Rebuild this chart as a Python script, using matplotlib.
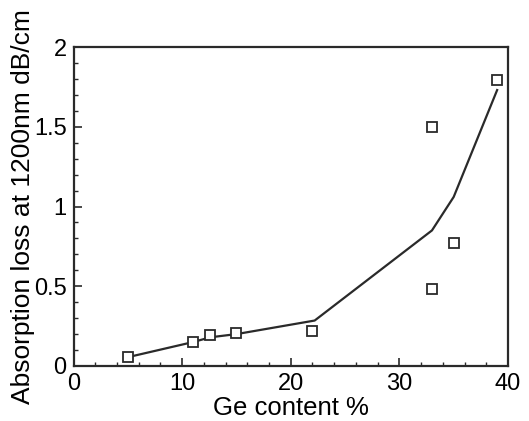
import matplotlib
matplotlib.use("Agg")
import matplotlib.pyplot as plt
from matplotlib.ticker import MultipleLocator

plt.rcParams['font.family'] = ['Liberation Sans', 'DejaVu Sans']

# measured data (squares)
ge_pts = [5, 11, 12.6, 15, 22, 33, 33, 35, 39]
loss_pts = [0.055, 0.15, 0.195, 0.205, 0.22, 1.5, 0.48, 0.77, 1.79]

# fitted curve
ge_fit = [5.3, 11, 12.6, 15, 22.2, 33, 35, 39]
loss_fit = [0.06, 0.15, 0.18, 0.2, 0.285, 0.85, 1.06, 1.73]

xticks = [0, 10, 20, 30, 40]
yticks = [0, 0.5, 1, 1.5, 2]
ytick_labels = ['0', '0.5', '1', '1.5', '2']

fig = plt.figure(figsize=(5.29, 4.21), dpi=100)
ax = fig.add_axes([73.5/529, 1-366/421, (508-73.5)/529, (366-47)/421])

col = '#2a2a2a'
ax.plot(ge_fit, loss_fit, '-', color=col, lw=1.6)
ax.plot(ge_pts, loss_pts, 's', mfc='white', mec=col, ms=7, mew=1.3, ls='none')

ax.set_xlim(0, 40)
ax.set_ylim(0, 2)
ax.set_xticks(xticks)
ax.set_yticks(yticks)
ax.set_yticklabels(ytick_labels)
ax.xaxis.set_minor_locator(MultipleLocator(2))
ax.yaxis.set_minor_locator(MultipleLocator(0.1))
ax.tick_params(which='both', direction='in', top=False, right=False, color=col)
ax.tick_params(which='major', length=6, width=1.2, labelsize=17, pad=5)
ax.tick_params(which='minor', length=3, width=1.0)
for s in ax.spines.values():
    s.set_linewidth(1.6)
    s.set_color(col)

ax.set_xlabel('Ge content %', fontsize=18.5, labelpad=1)
ax.set_ylabel('Absorption loss at 1200nm dB/cm', fontsize=19, labelpad=-1)

fig.savefig('out.png', dpi=100)
